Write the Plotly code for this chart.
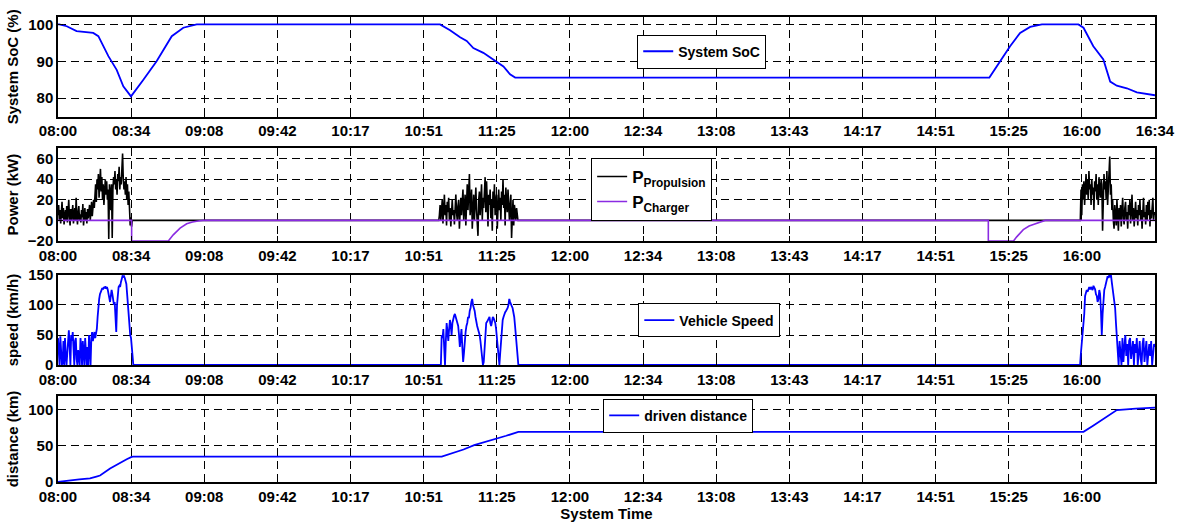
import numpy as np
import plotly.graph_objects as go

# ---------------- DATA (time in minutes after 08:00) ----------------
tick_minutes = [0, 34.27, 68.53, 102.8, 137.07, 171.33, 205.6, 239.87, 274.13,
                308.4, 342.67, 376.93, 411.2, 445.47, 479.73, 514]
tick_labels = ["08:00", "08:34", "09:08", "09:42", "10:17", "10:51", "11:25", "12:00",
               "12:34", "13:08", "13:43", "14:17", "14:51", "15:25", "16:00", "16:34"]

soc_t = [0, 0.6, 4.1, 8.7, 16.5, 18.9, 23.6, 27.5, 30.6, 34.2, 40, 46.2, 53.3, 58.7, 65,
         179, 183.7, 188.4, 191.5, 194.6, 199.3, 202.4, 205.6, 208.7, 211.8, 214.2,
         436.4, 441.4, 446.1, 450.8, 455.5, 461, 478.1, 480.5, 485.1, 489.8, 493,
         496.1, 500.8, 505.5, 514]
soc_v = [100, 100, 99.5, 98.2, 97.7, 96.8, 91.4, 87.7, 83.2, 80.5, 85, 90, 96.8, 99.1, 100,
         100, 98.4, 96.5, 95.5, 93.6, 92.3, 91.1, 89.8, 88.6, 86.5, 85.6,
         85.6, 90, 94.1, 97.7, 99.3, 100, 100, 99.1, 94.1, 90.5, 84.5,
         83.4, 82.7, 81.6, 80.8]

# propulsion power segments: (start, end) and sampled values
prop_seg1a_span = [0, 17]
prop_seg1a = [5, 15, 0, 10, -3, 8, 18, 2, 12, -4, 6, 10, 0, 14, -2, 9, 20, 3, -5, 11, 0, 7,
              15, -3, 4, 12, 0, 22, 5, -4, 8, 14, 0, 6, -2, 10, 3, 16, -5, 5, 12, 0, 8, -3,
              11, 2, 9, 15, 0, 6, 18, 4, 10, 20, 12]
prop_seg1b_span = [17.3, 34.8]
prop_seg1b = [25, 35, 18, 40, 30, 45, 22, 38, 50, 28, 42, 20, 35, 15, 30, 40, 25, 38, 20, 30,
              -18, 35, 28, 10, 35, -17, 30, 42, 35, 48, 30, 40, 25, 45, 38, 52, 30, 42, 35, 48,
              65, 40, 30, 38, 25, 42, 20, 35, 15, 28, 5, -5, 3, -6, 0]
prop_seg2_span = [178.7, 215.2]
prop_seg2 = [5, 15, 0, 10, 20, -3, 12, 25, 5, 15,
             -5, 18, 8, 22, 0, 12, -6, 15, 20, 5,
             10, -4, 18, 25, 8, 0, 14, 20, -8, 10,
             22, 5, 15, 30, 0, 12, 25, -5, 18, 35,
             10, 28, 45, 5, 20, 30, -8, 15, 25, 0,
             18, 32, 10, -10, -15, 20, 28, 5, 15, 35,
             0, 22, 12, 30, 42, 8, 38, 18, -6, 25,
             15, 30, 2, 20, -10, 28, 12, 35, 5, 18,
             25, -8, 15, 30, 10, 22, 0, 28, 15, 40,
             12, 25, -5, 32, 18, 8, 30, 20, 0, 15,
             25, -17, 10, 20, -5, 15, 8, 0, 12, 5]
prop_seg3_span = [479, 514]
prop_seg3 = [0, 30, 5, 35, 20, 38, 15, 30, 45, 25,
             40, 20, 48, 30, 35, 15, 40, 25, 32, 10,
             38, 28, 45, 20, 35, 15, 42, 30, 22, 40,
             35, -10, 25, 45, 30, 38, 20, 48, 15, 30,
             40, 62, 25, 35, 10, 20, 0, -8, 15, 5,
             -5, 20, 8, -10, 12, 0, 15, -6, 10, 22,
             2, -4, 12, 18, 0, 8, -8, 15, 5, 20,
             -3, 10, 25, 0, 12, -6, 8, 18, 2, 10,
             -5, 15, 5, 20, 0, 10, -8, 12, 22, 3,
             8, -4, 15, 0, 18, 5, 20, -6, 10, 2,
             15, 22, 0, 8, 5]
prop_idle_t = [35.2, 178.4, 215.5, 478.7]

charger_t = [0, 34.5, 34.5, 51.7, 54, 57.2, 60.3, 63, 65.7, 68,
             435.9, 435.9, 447.7, 449.2, 452.3, 455, 457, 460, 462.5, 514]
charger_v = [0, 0, -20, -20, -14, -7.5, -3.3, -1.5, -0.6, 0,
             0, -20, -20, -16, -9, -5.5, -4, -1.5, 0, 0]

# vehicle speed segments
spd_seg1a_span = [0, 17.8]
spd_seg1a = [45, 20, 0, 48, 30, 0, 5, 40, 0, 45, 15, 0, 20, 55, 58, 30, 0, 50, 40, 55, 20, 0,
             40, 45, 10, 0, 25, 5, 0, 45, 30, 0, 40, 20, 0, 45, 10, 0, 30, 0, 50, 20, 0, 45,
             55, 40, 50, 55, 45, 50]
spd_seg1b_span = [18.2, 35.3]
spd_seg1b = [60, 80, 100, 110, 118, 122, 125, 128, 126, 130, 128, 131, 127, 130, 126, 120,
             110, 105, 115, 125, 118, 110, 100, 105, 75, 55, 100, 120, 130, 132, 130, 138,
             145, 148, 147, 148, 145, 140, 135, 118, 100, 80, 65, 50, 45, 30, 10, 0]
spd_seg2_span = [179.4, 215.7]
spd_seg2 = [0, 50, 45, 60, 30, 0, 40, 70, 55, 40, 60, 75, 65, 50, 70, 80, 82, 85, 80, 75, 72,
            65, 50, 30, 45, 60, 30, 5, 20, 50, 55, 65, 70, 80, 78, 90, 95, 105, 110, 100, 95,
            90, 80, 70, 65, 60, 55, 50, 40, 25, 10, 0, 5, 30, 50, 70, 72, 75, 78, 80, 70, 65,
            72, 80, 78, 75, 70, 60, 45, 30, 15, 0, 20, 40, 60, 75, 80, 85, 88, 90, 92, 95,
            100, 110, 105, 100, 98, 95, 88, 80, 65, 50, 30, 10, 0]
spd_seg3a_span = [478.9, 496.1]
spd_seg3a = [0, 20, 35, 50, 65, 85, 115, 120, 125, 122, 128, 130, 126, 130, 127, 125, 132,
             128, 126, 118, 115, 105, 110, 125, 118, 90, 50, 85, 120, 125, 130, 138, 145,
             148, 145, 150, 148, 150, 138, 125, 118, 105, 95, 70, 45]
spd_seg3b_span = [496.5, 514]
spd_seg3b = [10, 0, 40, 20, 0, 45, 5, 30, 50, 15, 35, 0, 40, 45, 10, 25, 40, 0, 35, 20,
             45, 0, 30, 40, 10, 0, 35, 45, 5, 30, 40, 0, 25, 35, 15, 40, 0, 20, 35, 30]
spd_idle_t = [35.6, 179.2, 216, 478.7]

dist_t = [0, 2, 5, 10, 15, 18, 19.7, 24.4, 29.1, 32.2, 34.5, 35.3,
          179.8, 185, 190, 195, 200, 205, 210, 215.7,
          480.5, 485, 490, 496.1, 505, 514]
dist_v = [0, 1, 2, 3.5, 5, 7.5, 9, 18.6, 26.9, 31.5, 34.8, 35.2,
          35.2, 40, 45, 51, 55, 60, 64, 69.4,
          69.4, 78, 88, 99.6, 101.5, 103]


def sampled(span, vals):
    return list(np.linspace(span[0], span[1], len(vals))), list(vals)


# assemble propulsion
p_t, p_v = [], []
for span, vals in [(prop_seg1a_span, prop_seg1a), (prop_seg1b_span, prop_seg1b)]:
    tt, vv = sampled(span, vals)
    p_t += tt
    p_v += vv
p_t += prop_idle_t[:2]
p_v += [0, 0]
tt, vv = sampled(prop_seg2_span, prop_seg2)
p_t += tt
p_v += vv
p_t += prop_idle_t[2:]
p_v += [0, 0]
tt, vv = sampled(prop_seg3_span, prop_seg3)
p_t += tt
p_v += vv

# assemble speed
s_t, s_v = [], []
for span, vals in [(spd_seg1a_span, spd_seg1a), (spd_seg1b_span, spd_seg1b)]:
    tt, vv = sampled(span, vals)
    s_t += tt
    s_v += vv
s_t += spd_idle_t[:2]
s_v += [0, 0]
tt, vv = sampled(spd_seg2_span, spd_seg2)
s_t += tt
s_v += vv
s_t += spd_idle_t[2:]
s_v += [0, 0]
for span, vals in [(spd_seg3a_span, spd_seg3a), (spd_seg3b_span, spd_seg3b)]:
    tt, vv = sampled(span, vals)
    s_t += tt
    s_v += vv

# ---------------- FIGURE ----------------
FONT = "Liberation Sans"
BLUE = "#0000FF"
PURPLE = "#8A2BE2"

fig = go.Figure()
fig.add_trace(go.Scatter(x=soc_t, y=soc_v, mode="lines", name="<b>System SoC</b>",
                         line=dict(color=BLUE, width=1.8), xaxis="x", yaxis="y",
                         legend="legend"))
fig.add_trace(go.Scatter(x=p_t, y=p_v, mode="lines", name="<b>P<sub>Propulsion</sub></b>",
                         line=dict(color="black", width=1.6), xaxis="x2", yaxis="y2",
                         legend="legend2"))
fig.add_trace(go.Scatter(x=charger_t, y=charger_v, mode="lines", name="<b>P<sub>Charger</sub></b>",
                         line=dict(color=PURPLE, width=1.6), xaxis="x2", yaxis="y2",
                         legend="legend2"))
fig.add_trace(go.Scatter(x=s_t, y=s_v, mode="lines", name="<b>Vehicle Speed</b>",
                         line=dict(color=BLUE, width=1.8), xaxis="x3", yaxis="y3",
                         legend="legend3"))
fig.add_trace(go.Scatter(x=dist_t, y=dist_v, mode="lines", name="<b>driven distance</b>",
                         line=dict(color=BLUE, width=1.8), xaxis="x4", yaxis="y4",
                         legend="legend4"))

tickfont = dict(family=FONT, size=15, color="black", weight="bold")
titlefont = dict(family=FONT, size=15, color="black", weight="bold")
grid = dict(showgrid=True, gridcolor="black", gridwidth=1, griddash="8px,5px",
            zeroline=False, showline=True, linecolor="black", linewidth=1.5,
            mirror="ticks", ticks="inside", ticklen=5, tickcolor="black",
            tickfont=tickfont, automargin=False)

domains = [[0.7856, 1.0], [0.5183, 0.7176], [0.2516, 0.4452], [0.0, 0.1849]]
yranges = [[75, 102], [-20, 70], [0, 150], [0, 119]]
yticks = [[80, 90, 100], [-20, 0, 20, 40, 60], [0, 50, 100, 150], [0, 50, 100]]
ytitles = ["System SoC (%)", "Power (kW)", "speed (km/h)", "distance (km)"]

layout = dict(
    width=1180, height=522,
    margin=dict(l=58, r=25, t=17, b=40, autoexpand=False),
    paper_bgcolor="white", plot_bgcolor="white",
    font=dict(family=FONT, color="black"),
)
for i in range(4):
    sfx = "" if i == 0 else str(i + 1)
    labels = tick_labels if i == 0 else tick_labels[:-1]
    layout["xaxis" + sfx] = dict(
        domain=[0, 1], range=[0, 514], anchor="y" + sfx,
        tickmode="array", tickvals=tick_minutes[:len(labels)], ticktext=labels,
        **grid)
    layout["yaxis" + sfx] = dict(
        domain=domains[i], range=yranges[i], anchor="x" + sfx,
        tickmode="array", tickvals=yticks[i],
        title=dict(text=ytitles[i], font=titlefont, standoff=6),
        **grid)
layout["xaxis4"]["title"] = dict(text="System Time", font=titlefont, standoff=2)

legbase = dict(bgcolor="white", bordercolor="black", borderwidth=1,
               xref="paper", yref="paper", xanchor="left", yanchor="top",
               itemwidth=30, tracegroupgap=0)
legfont = dict(family=FONT, size=14, color="black")
layout["legend"] = dict(x=0.528, y=0.962, font=legfont, **legbase)
layout["legend2"] = dict(x=0.486, y=0.697, font=dict(family=FONT, size=17, color="black"),
                         **legbase)
layout["legend3"] = dict(x=0.529, y=0.384, font=legfont, **legbase)
layout["legend4"] = dict(x=0.497, y=0.179, font=legfont, **legbase)
layout["showlegend"] = True

fig.update_layout(**layout)
fig.write_html("out.html")
